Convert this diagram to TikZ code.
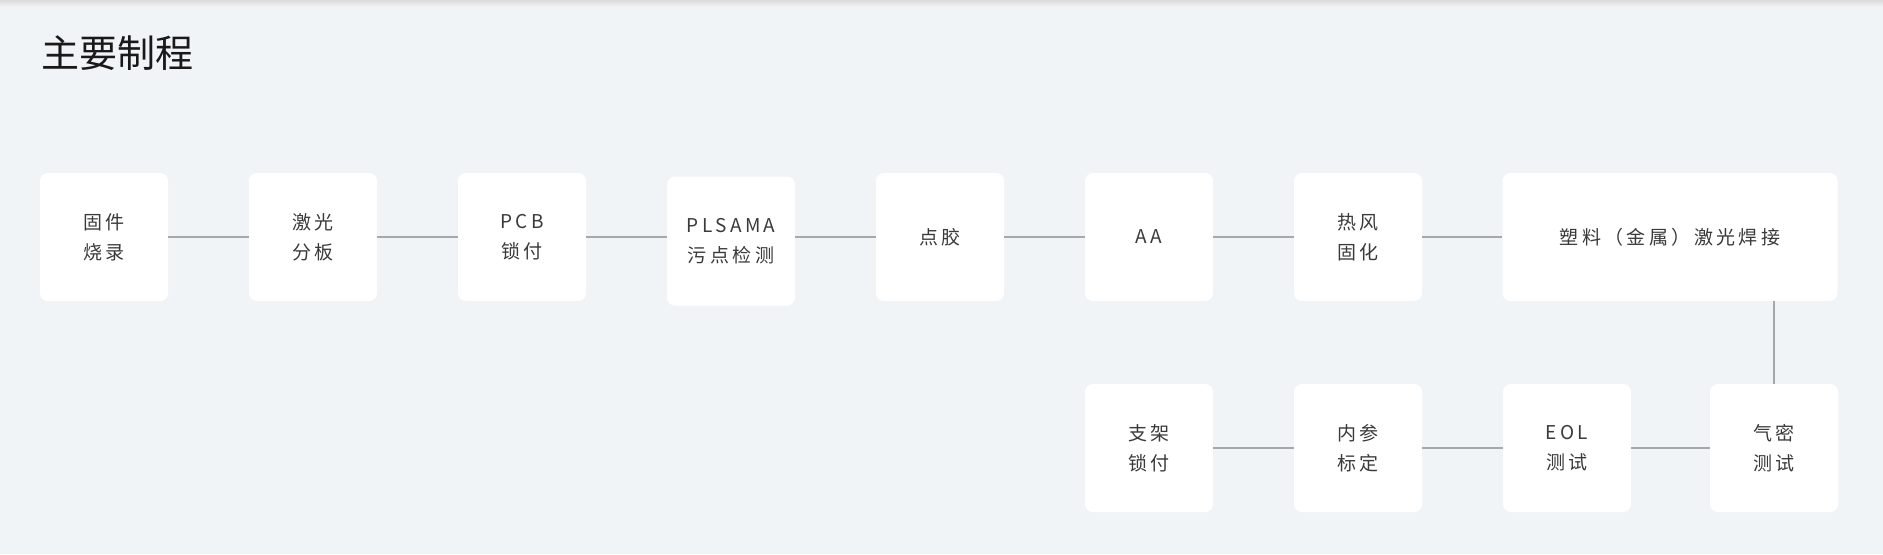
\documentclass[tikz,border=0pt]{standalone}
\usepackage{fontspec}
\newfontfamily\cjk[LetterSpace=18]{Noto Sans CJK SC}
\newfontfamily\cjktitle{Noto Sans CJK SC}
\definecolor{bgcol}{HTML}{F1F4F7}
\definecolor{linecol}{HTML}{A6A8AA}
\definecolor{txtcol}{HTML}{3A3A3A}
\begin{document}
\begin{tikzpicture}[x=0.5pt,y=-0.5pt]
\tikzstyle{every node}=[inner sep=0pt, rectangle, rounded corners=4pt, fill=white, minimum width=64pt, minimum height=64pt, align=center, text=txtcol, font=\cjk\fontsize{9.5}{15}\selectfont]
\tikzstyle{wire}=[draw=linecol, line width=0.75pt]
\fill[bgcol] (0,0) rectangle (1883,554);
\useasboundingbox (0,0) rectangle (1883,554);
\shade[top color=black!14, bottom color=bgcol] (0,0) rectangle (1883,7);
\draw (117,53) node (title) [fill=none, minimum width=0pt, minimum height=0pt, text=black!90, font=\cjktitle\fontsize{19}{19}\selectfont] {主要制程};
% top row
\draw (104,237) node (p1) {固件\\烧录};
\draw (313,237) node (p2) {激光\\分板};
\draw (522,237) node (p3) {PCB\\锁付};
\draw (731,241) node (p4) [minimum height=64.5pt] {PLSAMA\\污点检测};
\draw (940,237) node (p5) {点胶};
\draw (1149,237) node (p6) {AA};
\draw (1358,237) node (p7) {热风\\固化};
\draw (1670,237) node (p8) [minimum width=167.5pt] {塑料（金属）激光焊接};
% bottom row
\draw (1774,448) node (p9) {气密\\测试};
\draw (1567,448) node (p10) {EOL\\测试};
\draw (1358,448) node (p11) {内参\\标定};
\draw (1149,448) node (p12) {支架\\锁付};
\draw[wire] (p1) -- (p2);
\draw[wire] (p2) -- (p3);
\draw[wire] (p3.east) -- (p3.east -| p4.west);
\draw[wire] (p4.east |- p5.west) -- (p5.west);
\draw[wire] (p5) -- (p6);
\draw[wire] (p6) -- (p7);
\draw[wire] (p7) -- (p8);
\draw[wire] (p9.north) -- (p9.north |- p8.south);
\draw[wire] (p9) -- (p10);
\draw[wire] (p10) -- (p11);
\draw[wire] (p11) -- (p12);
\end{tikzpicture}
\end{document}
